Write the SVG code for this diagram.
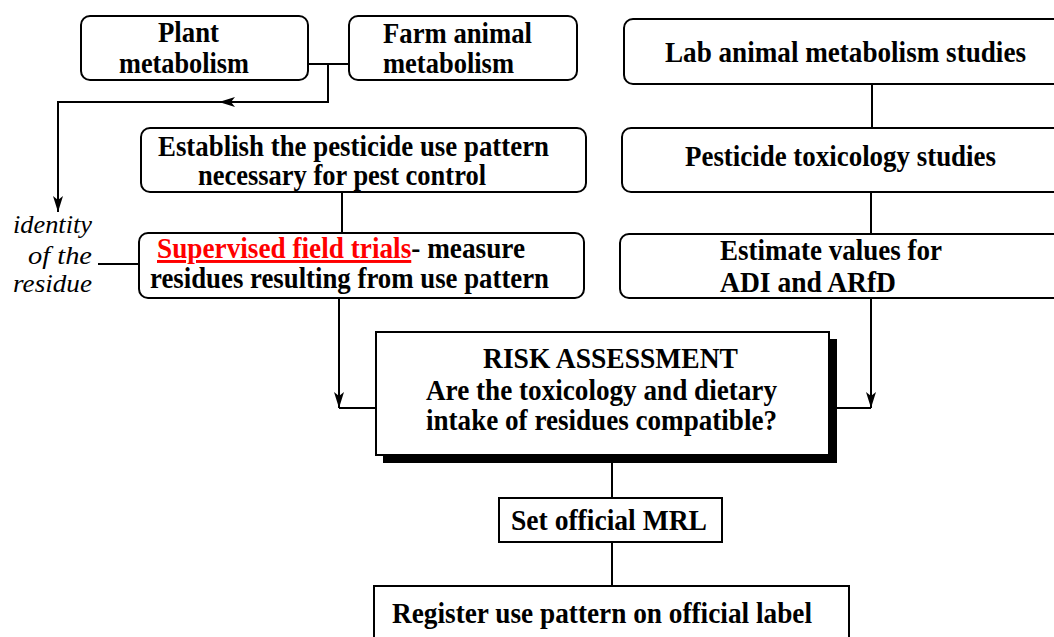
<svg xmlns="http://www.w3.org/2000/svg" width="1054" height="637" viewBox="0 0 1054 637">
<style>
.box{fill:#fff;stroke:#000;stroke-width:2}
.t{font-family:"Liberation Serif","Times New Roman",serif;font-weight:bold;font-size:29.5px;fill:#000}
.it{font-family:"Liberation Serif","Times New Roman",serif;font-style:italic;font-size:25px;fill:#000}
.ln{fill:none;stroke:#000;stroke-width:2}
.red{fill:#ff0000;text-decoration:underline}
</style>
<defs>
<marker id="ah" viewBox="0 0 16 10" refX="16" refY="5" markerWidth="16" markerHeight="10" markerUnits="userSpaceOnUse" orient="auto">
<path d="M0,0 L16,5 L0,10 L4,5 Z" fill="#000"/>
</marker>
</defs>
<rect width="1054" height="637" fill="#fff"/>
<g id="connectors">
<line class="ln" x1="308" y1="64" x2="349" y2="64"/>
<polyline class="ln" points="328,64 328,102 58,102 58,212" marker-end="url(#ah)"/>
<line class="ln" x1="328" y1="102" x2="219" y2="102" marker-end="url(#ah)"/>
<line class="ln" x1="98" y1="264" x2="139" y2="264"/>
<line class="ln" x1="342" y1="192" x2="342" y2="233"/>
<line class="ln" x1="339" y1="298" x2="339" y2="408" marker-end="url(#ah)"/>
<line class="ln" x1="339" y1="408" x2="380" y2="408"/>
<line class="ln" x1="872" y1="84" x2="872" y2="128"/>
<line class="ln" x1="871" y1="192" x2="871" y2="234"/>
<line class="ln" x1="871" y1="298" x2="871" y2="408" marker-end="url(#ah)"/>
<line class="ln" x1="837" y1="408" x2="871" y2="408"/>
<line class="ln" x1="612" y1="455" x2="612" y2="498"/>
<line class="ln" x1="612" y1="542" x2="612" y2="586"/>
</g>
<g id="plant">
<rect class="box" x="81" y="16" width="227" height="64" rx="9"/>
<text class="t" x="158" y="42" textLength="61" lengthAdjust="spacingAndGlyphs">Plant</text>
<text class="t" x="119" y="73" textLength="130" lengthAdjust="spacingAndGlyphs">metabolism</text>
</g>
<g id="farm">
<rect class="box" x="349" y="16" width="228" height="64" rx="9"/>
<text class="t" x="383" y="43" textLength="149" lengthAdjust="spacingAndGlyphs">Farm animal</text>
<text class="t" x="383" y="73" textLength="131" lengthAdjust="spacingAndGlyphs">metabolism</text>
</g>
<g id="establish">
<rect class="box" x="141" y="128" width="445" height="64" rx="9"/>
<text class="t" x="158" y="156" textLength="391" lengthAdjust="spacingAndGlyphs">Establish the pesticide use pattern</text>
<text class="t" x="198" y="185" textLength="288" lengthAdjust="spacingAndGlyphs">necessary for pest control</text>
</g>
<g id="identity">
<text class="it" x="13" y="233" textLength="79" lengthAdjust="spacingAndGlyphs">identity</text>
<text class="it" x="28" y="264" textLength="64" lengthAdjust="spacingAndGlyphs">of the</text>
<text class="it" x="13" y="292" textLength="79" lengthAdjust="spacingAndGlyphs">residue</text>
</g>
<g id="supervised">
<rect class="box" x="139" y="233" width="445" height="65" rx="9"/>
<text class="t" x="157" y="258" textLength="368" lengthAdjust="spacingAndGlyphs"><tspan class="red">Supervised field trials</tspan>- measure</text>
<text class="t" x="150" y="288" textLength="399" lengthAdjust="spacingAndGlyphs">residues resulting from use pattern</text>
</g>
<g id="lab">
<rect class="box" x="624" y="19" width="440" height="65" rx="9"/>
<text class="t" x="665" y="62" textLength="361" lengthAdjust="spacingAndGlyphs">Lab animal metabolism studies</text>
</g>
<g id="toxicology">
<rect class="box" x="622" y="128" width="442" height="64" rx="9"/>
<text class="t" x="685" y="166" textLength="311" lengthAdjust="spacingAndGlyphs">Pesticide toxicology studies</text>
</g>
<g id="estimate">
<rect class="box" x="620" y="234" width="444" height="64" rx="9"/>
<text class="t" x="720" y="260" textLength="222" lengthAdjust="spacingAndGlyphs">Estimate values for</text>
<text class="t" x="720" y="292" textLength="176" lengthAdjust="spacingAndGlyphs">ADI and ARfD</text>
</g>
<g id="risk">
<rect x="383" y="339" width="454" height="124" fill="#000"/>
<rect class="box" x="376" y="332" width="453" height="123"/>
<text class="t" x="483" y="368" textLength="255" lengthAdjust="spacingAndGlyphs">RISK ASSESSMENT</text>
<text class="t" x="426" y="400" textLength="351" lengthAdjust="spacingAndGlyphs">Are the toxicology and dietary</text>
<text class="t" x="426" y="430" textLength="351" lengthAdjust="spacingAndGlyphs">intake of residues compatible?</text>
</g>
<g id="mrl">
<rect class="box" x="499" y="498" width="223" height="44"/>
<text class="t" x="511" y="530" textLength="196" lengthAdjust="spacingAndGlyphs">Set official MRL</text>
</g>
<g id="register">
<rect class="box" x="374" y="586" width="475" height="60"/>
<text class="t" x="392" y="623" textLength="420" lengthAdjust="spacingAndGlyphs">Register use pattern on official label</text>
</g>
</svg>
